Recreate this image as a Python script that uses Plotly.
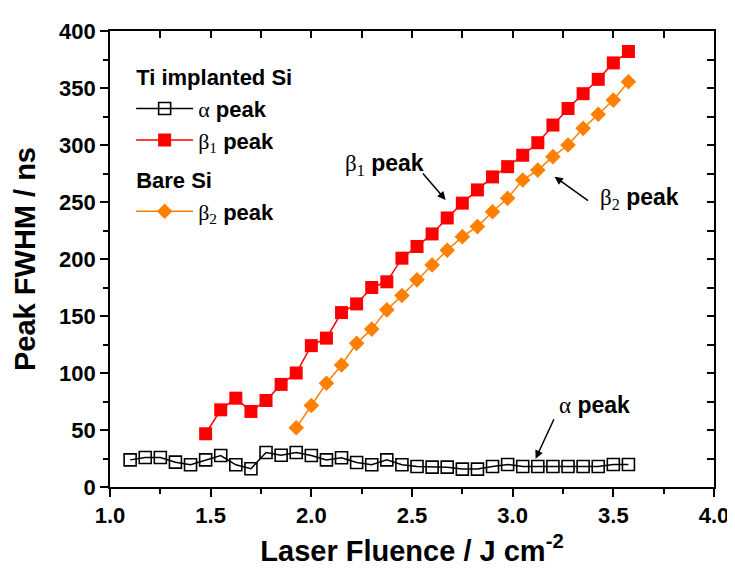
import plotly.graph_objects as go

# Laser fluence values (J cm^-2)
fluence_alpha = [1.100, 1.175, 1.250, 1.325, 1.400, 1.475, 1.550, 1.625, 1.700, 1.775,
                 1.850, 1.925, 2.000, 2.075, 2.150, 2.225, 2.300, 2.375, 2.450, 2.525,
                 2.600, 2.675, 2.750, 2.825, 2.900, 2.975, 3.050, 3.125, 3.200, 3.275,
                 3.350, 3.425, 3.500, 3.575]
fwhm_alpha = [23.8, 25.9, 25.9, 21.8, 19.5, 23.8, 27.6, 19.5, 16.0, 30.2,
              27.9, 30.2, 27.6, 23.8, 25.6, 21.5, 19.5, 23.8, 19.5, 18.0,
              17.4, 17.4, 15.7, 15.7, 18.0, 19.8, 18.0, 18.0, 18.0, 18.0,
              18.0, 18.0, 19.8, 19.8]

fluence_beta1 = [1.475, 1.550, 1.625, 1.700, 1.775, 1.850, 1.925, 2.000, 2.075, 2.150,
                 2.225, 2.300, 2.375, 2.450, 2.525, 2.600, 2.675, 2.750, 2.825, 2.900,
                 2.975, 3.050, 3.125, 3.200, 3.275, 3.350, 3.425, 3.500, 3.575]
fwhm_beta1 = [46.7, 67.7, 77.9, 66.3, 75.9, 90.0, 100.0, 124.0, 130.6, 153.0,
              160.6, 175.0, 180.0, 200.7, 211.0, 222.0, 236.0, 249.0, 260.6, 272.0,
              281.0, 291.0, 302.0, 317.5, 332.0, 345.0, 357.6, 372.0, 382.0]

fluence_beta2 = [1.925, 2.000, 2.075, 2.150, 2.225, 2.300, 2.375, 2.450, 2.525, 2.600,
                 2.675, 2.750, 2.825, 2.900, 2.975, 3.050, 3.125, 3.200, 3.275, 3.350,
                 3.425, 3.500, 3.575]
fwhm_beta2 = [52.0, 71.5, 91.0, 107.0, 126.0, 138.5, 155.4, 168.0, 181.7, 194.8,
              207.7, 219.6, 228.4, 241.5, 253.2, 269.3, 278.0, 289.8, 300.0, 314.6,
              327.0, 339.4, 355.5]

x_range = [1.0, 4.0]
y_range = [0, 400]
x_title = "Laser Fluence / J cm<sup>-2</sup>"
y_title = "Peak FWHM / ns"

SANS = "Liberation Sans"
GREEK = "<span style='font-family:Liberation Serif;font-weight:normal'>{}</span>"
alpha_name = GREEK.format("α") + " peak"
beta1_name = GREEK.format("β<sub>1</sub>") + " peak"
beta2_name = GREEK.format("β<sub>2</sub>") + " peak"

fig = go.Figure()
fig.add_trace(go.Scatter(
    x=fluence_alpha, y=fwhm_alpha, mode="lines+markers", name=alpha_name,
    line=dict(color="black", width=1.5),
    marker=dict(symbol="square-open", size=12, color="black", line=dict(width=1.6)),
    legendgroup="g1", legendgrouptitle=dict(text="Ti implanted Si"),
))
fig.add_trace(go.Scatter(
    x=fluence_beta1, y=fwhm_beta1, mode="lines+markers", name=beta1_name,
    line=dict(color="#FF0000", width=1.5),
    marker=dict(symbol="square", size=13, color="#FF0000"),
    legendgroup="g1",
))
fig.add_trace(go.Scatter(
    x=fluence_beta2, y=fwhm_beta2, mode="lines+markers", name=beta2_name,
    line=dict(color="#FF8000", width=1.5),
    marker=dict(symbol="diamond", size=12, color="#FF8000"),
    legendgroup="g3", legendgrouptitle=dict(text="Bare Si"),
))
# mirror axes carrier (no data)
fig.add_trace(go.Scatter(x=[], y=[], xaxis="x2", yaxis="y2", showlegend=False, hoverinfo="skip"))

tickfont = dict(family=SANS, size=22, color="black", weight="bold")
titlefont = dict(family=SANS, size=29, color="black", weight="bold")

# page body has an 8px default margin; figure sized so the plot lands where the reference has it
fig.update_layout(
    width=727, height=568,
    margin=dict(l=102, r=21, t=23, b=89, autoexpand=False),
    paper_bgcolor="white", plot_bgcolor="white",
    showlegend=True,
    legend=dict(
        x=0.035, y=0.945, xanchor="left", yanchor="top",
        bgcolor="rgba(0,0,0,0)", traceorder="grouped", tracegroupgap=8,
        font=dict(family=SANS, size=22, color="black", weight="bold"),
        grouptitlefont=dict(family=SANS, size=22, color="black", weight="bold"),
        itemwidth=57,
    ),
    xaxis=dict(
        range=x_range, dtick=0.5, tick0=1.0, tickformat=".1f", automargin=False,
        showline=True, linecolor="black", linewidth=1.6,
        ticks="outside", ticklen=8, tickwidth=1.5, tickcolor="black",
        minor=dict(dtick=0.25, ticks="outside", ticklen=5, tickwidth=1.5, tickcolor="black", showgrid=False),
        showgrid=False, zeroline=False, tickfont=tickfont,
        title=dict(text=x_title, font=titlefont, standoff=13),
    ),
    yaxis=dict(
        range=y_range, dtick=50, tick0=0, automargin=False,
        showline=True, linecolor="black", linewidth=1.6,
        ticks="outside", ticklen=8, tickwidth=1.5, tickcolor="black",
        minor=dict(dtick=25, ticks="outside", ticklen=5, tickwidth=1.5, tickcolor="black", showgrid=False),
        showgrid=False, zeroline=False, tickfont=tickfont,
        title=dict(text=y_title, font=titlefont, standoff=15),
    ),
    xaxis2=dict(
        range=x_range, overlaying="x", side="top", anchor="y", automargin=False,
        dtick=0.5, tick0=1.0, showticklabels=False,
        showline=True, linecolor="black", linewidth=1.6,
        ticks="inside", ticklen=7, tickwidth=1.5, tickcolor="black",
        minor=dict(dtick=0.25, ticks="inside", ticklen=7, tickwidth=1.5, tickcolor="black", showgrid=False),
        showgrid=False, zeroline=False,
    ),
    yaxis2=dict(
        range=y_range, overlaying="y", side="right", anchor="x", automargin=False,
        dtick=50, tick0=0, showticklabels=False,
        showline=True, linecolor="black", linewidth=1.6,
        ticks="inside", ticklen=7, tickwidth=1.5, tickcolor="black",
        minor=dict(dtick=25, ticks="inside", ticklen=7, tickwidth=1.5, tickcolor="black", showgrid=False),
        showgrid=False, zeroline=False,
    ),
)

annfont = dict(family=SANS, size=23, color="black", weight="bold")
# text labels
fig.add_annotation(x=2.364, y=283.3, text=beta1_name, showarrow=False, font=annfont)
fig.add_annotation(x=3.630, y=253.5, text=beta2_name, showarrow=False, font=annfont)
fig.add_annotation(x=3.407, y=72.1, text=alpha_name, showarrow=False, font=annfont)
# arrows
arrow = dict(showarrow=True, arrowhead=2, arrowsize=1.1, arrowwidth=1.5, arrowcolor="black", text="")
fig.add_annotation(x=2.667, y=251.8, ax=-24, ay=-28, **arrow)
fig.add_annotation(x=3.208, y=272.2, ax=35, ay=25, **arrow)
fig.add_annotation(x=3.114, y=24.8, ax=19, ay=-41, **arrow)

fig.write_html("out.html")
